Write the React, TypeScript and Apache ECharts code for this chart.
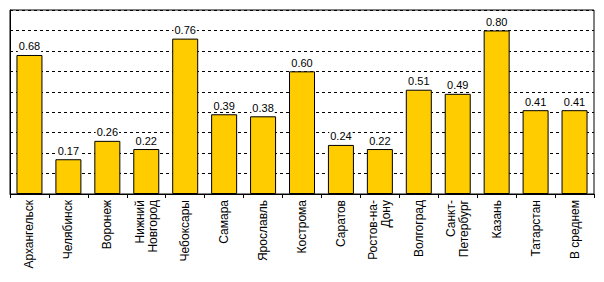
import React, { useEffect, useRef } from "react";
import * as echarts from "echarts";

const categories = [
  "Архангельск",
  "Челябинск",
  "Воронеж",
  "Нижний\nНовгород",
  "Чебоксары",
  "Самара",
  "Ярославль",
  "Кострома",
  "Саратов",
  "Ростов-на-\nДону",
  "Волгоград",
  "Санкт-\nПетербург",
  "Казань",
  "Татарстан",
  "В среднем",
];
const values = [0.68, 0.17, 0.26, 0.22, 0.76, 0.39, 0.38, 0.6, 0.24, 0.22, 0.51, 0.49, 0.8, 0.41, 0.41];

export default function App() {
  const ref = useRef<HTMLDivElement>(null);
  useEffect(() => {
    const chart = echarts.init(ref.current!, undefined, { renderer: "svg" });
    chart.setOption({
      animation: false,
      backgroundColor: "#fff",
      textStyle: { fontFamily: "Arial, 'Liberation Sans', sans-serif" },
      grid: {
        left: 10,
        top: 10,
        width: 584,
        height: 184,
        show: true,
        borderColor: "#000",
        borderWidth: 1,
        containLabel: false,
      },
      xAxis: {
        type: "category",
        data: categories,
        axisLine: { show: true, lineStyle: { color: "#000", width: 1 } },
        axisTick: { show: true, alignWithLabel: false, length: 4, lineStyle: { color: "#000" } },
        axisLabel: {
          rotate: 90,
          interval: 0,
          margin: 6,
          fontSize: 12,
          color: "#000",
          lineHeight: 13,
          fontFamily: "Arial, 'Liberation Sans', sans-serif",
        },
      },
      yAxis: {
        type: "value",
        min: 0,
        max: 0.9,
        interval: 0.1,
        axisLine: { show: true, lineStyle: { color: "#000", width: 1 } },
        axisTick: { show: false },
        axisLabel: { show: false },
        splitLine: { show: true, lineStyle: { color: "#000", width: 1, type: [3, 3] } },
      },
      series: [
        {
          type: "bar",
          data: values,
          barWidth: 26,
          itemStyle: { color: "#FFCC00", borderColor: "#000", borderWidth: 1 },
          label: {
            show: true,
            position: "top",
            distance: 3,
            fontSize: 11,
            color: "#000",
            backgroundColor: "#fff",
            padding: [0, 1],
            fontFamily: "Arial, 'Liberation Sans', sans-serif",
            formatter: (p: any) => Number(p.value).toFixed(2),
          },
        },
      ],
    });
    return () => chart.dispose();
  }, []);
  return (
    <div
      ref={ref}
      style={{ position: "fixed", left: 0, top: 0, width: 604, height: 282 }}
    />
  );
}
